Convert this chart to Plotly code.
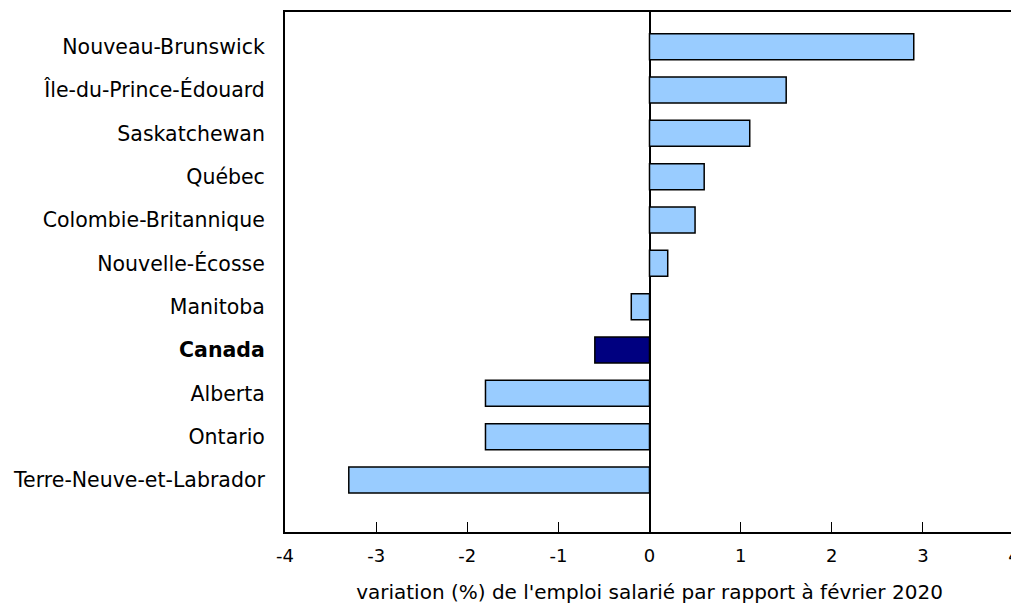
import plotly.graph_objects as go

categories = ["Terre-Neuve-et-Labrador", "Ontario", "Alberta", "<b>Canada</b>", "Manitoba",
              "Nouvelle-Écosse", "Colombie-Britannique", "Québec", "Saskatchewan",
              "Île-du-Prince-Édouard", "Nouveau-Brunswick"]
values = [-3.3, -1.8, -1.8, -0.6, -0.2, 0.2, 0.5, 0.6, 1.1, 1.5, 2.9]
colors = ["#000080" if "Canada" in c else "#99CCFF" for c in categories]
x_ticks = [-4, -3, -2, -1, 0, 1, 2, 3, 4]
x_title = "variation (%) de l'emploi salarié par rapport à février 2020"

pos = list(range(len(categories)))

fig = go.Figure(go.Bar(
    x=values, y=pos, orientation="h", width=0.6,
    marker=dict(color=colors, line=dict(color="black", width=1.5)),
))
fig.update_layout(
    width=1013, height=596,
    margin=dict(l=277, r=7, t=4, b=72),
    paper_bgcolor="white", plot_bgcolor="white",
    font=dict(family="DejaVu Sans", size=18, color="black"),
    showlegend=False,
)
fig.update_xaxes(
    range=[-4, 4], tickvals=x_ticks, ticktext=[str(t) for t in x_ticks],
    ticks="inside", ticklen=10, tickcolor="black", tickwidth=1,
    tickfont=dict(size=18), ticklabelstandoff=6,
    showgrid=False, zeroline=True, zerolinecolor="black", zerolinewidth=1.5,
    showline=True, linecolor="black", linewidth=2, mirror=True,
    automargin=False,
    title=dict(text=x_title, standoff=30, font=dict(size=20)),
)
fig.update_yaxes(
    range=[-1.2, 10.8], tickvals=pos, ticktext=categories,
    tickfont=dict(size=20.5),
    ticks="", showgrid=False, zeroline=False,
    showline=True, linecolor="black", linewidth=2, mirror=True,
    ticklabelstandoff=14,
)
fig.write_html("out.html")
